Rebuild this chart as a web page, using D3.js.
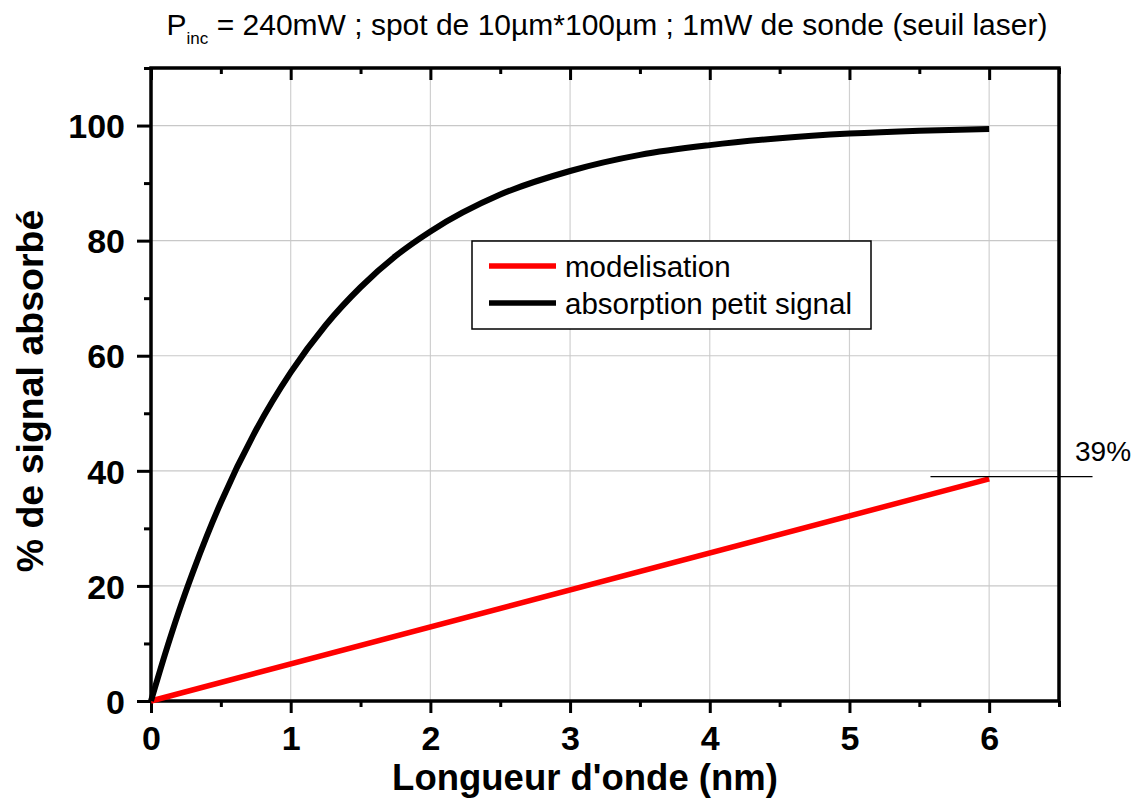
<!DOCTYPE html>
<html><head><meta charset="utf-8">
<script src="https://cdn.jsdelivr.net/npm/d3@7"></script>
<style>body{margin:0;background:#fff}svg{display:block;font-family:Arial,"Liberation Sans",sans-serif}</style>
</head><body>
<svg id="c" width="1141" height="805"></svg>
<script>
// data
const absX = [0,0.1,0.2,0.3,0.4,0.5,0.75,1,1.25,1.5,1.75,2,2.5,3,3.5,4,4.5,5,5.5,6];
const absY = [0,8.1,15.6,22.4,28.7,34.5,47.0,57.1,65.3,71.9,77.3,81.6,88.0,92.1,94.9,96.6,97.8,98.6,99.1,99.4];
const modX = [0,6];
const modY = [0,38.6];
const annotX = [5.58,6.74];
const annotY = [39,39];
const annotLabel = "39%";
const xTicks = [0,1,2,3,4,5,6];
const yTicks = [0,20,40,60,80,100];
const seriesNames = ["modelisation","absorption petit signal"];
const seriesColors = ["#ff0000","#000000"];

const L=151,R=1059,T=68,B=701;
const svg=d3.select("#c");
const x=d3.scaleLinear().domain([0,6.5]).range([L,R]);
const y=d3.scaleLinear().domain([0,110]).range([B,T]);

// grid
svg.append("g").selectAll("line").data(xTicks.filter(d=>d>0)).join("line")
 .attr("x1",d=>x(d)).attr("x2",d=>x(d)).attr("y1",T).attr("y2",B).attr("stroke","#d0d0d0").attr("stroke-width",1.2);
svg.append("g").selectAll("line").data(yTicks.filter(d=>d>0)).join("line")
 .attr("x1",L).attr("x2",R).attr("y1",d=>y(d)).attr("y2",d=>y(d)).attr("stroke","#c8c8c8").attr("stroke-width",1.2);

// axes
const xMinor=d3.range(0,6.6,0.5).filter(d=>!xTicks.includes(d));
const yMinor=d3.range(10,111,20);
const gx=svg.append("g").attr("transform",`translate(0,${B})`)
 .call(d3.axisBottom(x).tickValues(xTicks).tickSize(12).tickFormat(d3.format("d")));
const gx2=svg.append("g").attr("transform",`translate(0,${B})`)
 .call(d3.axisBottom(x).tickValues(xMinor).tickSize(6).tickFormat(""));
const gy=svg.append("g").attr("transform",`translate(${L},0)`)
 .call(d3.axisLeft(y).tickValues(yTicks).tickSize(14).tickFormat(d3.format("d")));
const gy2=svg.append("g").attr("transform",`translate(${L},0)`)
 .call(d3.axisLeft(y).tickValues(yMinor).tickSize(7).tickFormat(""));
const gt=svg.append("g").attr("transform",`translate(0,${T})`)
 .call(d3.axisBottom(x).tickValues(xTicks).tickSize(12).tickFormat(""));
const gt2=svg.append("g").attr("transform",`translate(0,${T})`)
 .call(d3.axisBottom(x).tickValues(xMinor).tickSize(6).tickFormat(""));
[gx,gx2,gy,gy2,gt,gt2].forEach(g=>{g.select(".domain").remove();
 g.selectAll(".tick line").attr("stroke","#000").attr("stroke-width",3);});
gx.selectAll(".tick text").attr("font-size",34).attr("font-weight","bold").attr("fill","#000").attr("y",null).attr("dy",null).attr("transform",`translate(0,49)`);
gy.selectAll(".tick text").attr("font-size",34).attr("font-weight","bold").attr("fill","#000").attr("x",-26).attr("dy","0.36em");

// frame
svg.append("rect").attr("x",L).attr("y",T).attr("width",R-L).attr("height",B-T).attr("fill","none").attr("stroke","#000").attr("stroke-width",3.5);

// lines
const line=d3.line().x(d=>x(d[0])).y(d=>y(d[1])).curve(d3.curveMonotoneX);
svg.append("path").datum(modX.map((d,i)=>[d,modY[i]])).attr("d",line).attr("fill","none").attr("stroke",seriesColors[0]).attr("stroke-width",5.5);
svg.append("path").datum(absX.map((d,i)=>[d,absY[i]])).attr("d",line).attr("fill","none").attr("stroke",seriesColors[1]).attr("stroke-width",6);

// annotation
svg.append("line").attr("x1",x(annotX[0])).attr("x2",x(annotX[1])).attr("y1",y(annotY[0])).attr("y2",y(annotY[1])).attr("stroke","#000").attr("stroke-width",1.3);
svg.append("text").attr("x",1075).attr("y",461).attr("font-size",28).text(annotLabel);

// legend
const lg=svg.append("g");
lg.append("rect").attr("x",472).attr("y",241).attr("width",399).attr("height",88).attr("fill","#fff").attr("stroke","#000").attr("stroke-width",1.5);
seriesNames.forEach((n,i)=>{
 const yy=266+i*37;
 lg.append("line").attr("x1",489).attr("x2",556).attr("y1",yy).attr("y2",yy).attr("stroke",seriesColors[i]).attr("stroke-width",5.5);
 lg.append("text").attr("x",565).attr("y",yy+11).attr("font-size",29.5).text(n);
});

// title
const tt=svg.append("text").attr("x",607).attr("y",35).attr("text-anchor","middle").attr("font-size",30);
tt.append("tspan").text("P");
tt.append("tspan").attr("font-size",17).attr("dy",9).text("inc");
tt.append("tspan").attr("dy",-9).text(" = 240mW ; spot de 10µm*100µm ; 1mW de sonde (seuil laser)");

// axis labels
svg.append("text").attr("x",585).attr("y",790).attr("text-anchor","middle").attr("font-size",36.5).attr("font-weight","bold").text("Longueur d'onde (nm)");
svg.append("text").attr("transform","translate(43,391) rotate(-90)").attr("text-anchor","middle").attr("font-size",37.5).attr("font-weight","bold").text("% de signal absorbé");
</script>
</body></html>
